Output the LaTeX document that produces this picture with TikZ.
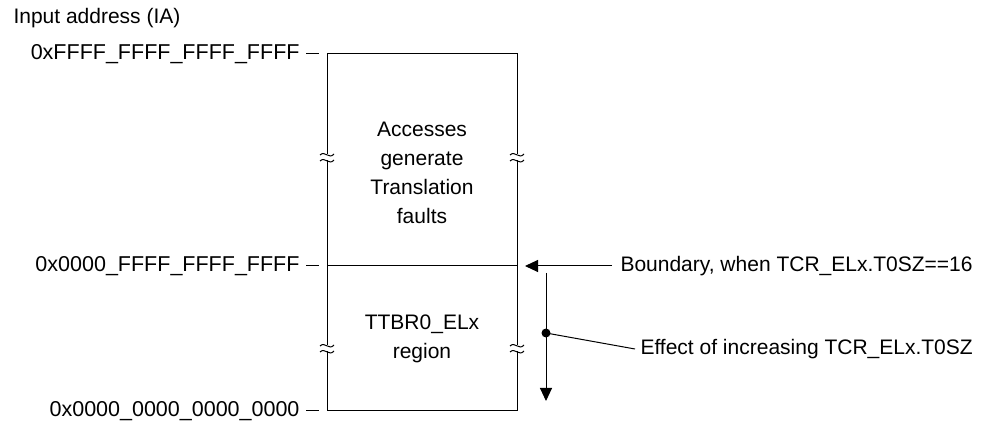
\documentclass[tikz,border=0pt]{standalone}
\usepackage{fontspec}
\setmainfont{Liberation Sans}
\usetikzlibrary{arrows.meta, positioning}

% small break mark across a vertical side
\newcommand{\brkmark}[2]{%
  \fill[white] (#1-7,#2-3) rectangle (#1+7,#2+3);
  \draw (#1-7,#2-2) .. controls (#1-2,#2-7) and (#1+2,#2+3) .. (#1+7,#2-3);
  \draw (#1-7,#2+4) .. controls (#1-2,#2-1) and (#1+2,#2+9) .. (#1+7,#2+3);
}

\begin{document}
\begin{tikzpicture}[
  x=1pt, y=-1pt,
  region/.style={draw, line width=1pt, minimum width=190pt, inner sep=0pt},
  txt/.style={font=\fontsize{21}{29}\selectfont, inner sep=0pt, align=center},
  addr/.style={font=\fontsize{21.5}{25}\selectfont, inner sep=0pt, anchor=east},
  >={Triangle[length=13pt, width=12pt]}, line width=1pt
]
\useasboundingbox (0,0) rectangle (991,427);

\node[txt, anchor=west] (ia) at (13,18) {Input address (IA)};

\node[region, minimum height=212pt] (upper) at (422,160) {};
\node[region, minimum height=145pt] (lower) at (422,338.5) {};

\node[txt] (fault) at (422,173) {Accesses\\generate\\Translation\\faults};
\node[txt] (ttbr)  at (422,339) {TTBR0\_ELx\\region};

\node[addr] (top) at (300,54)  {0xFFFF\_FFFF\_FFFF\_FFFF};
\node[addr] (mid) at (300,266) {0x0000\_FFFF\_FFFF\_FFFF};
\node[addr] (bot) at (300,411) {0x0000\_0000\_0000\_0000};
\foreach \n/\y in {top/54, mid/266, bot/411}
  \draw (\n.east) ++(6,0) -- ++(13,0);

% break marks
\brkmark{327}{157}
\brkmark{517}{157}
\brkmark{327}{348}
\brkmark{517}{348}

\node[txt, anchor=west] (bnd) at (620,266) {Boundary, when TCR\_ELx.T0SZ==16};
\node[txt, anchor=west] (eff) at (640,349) {Effect of increasing TCR\_ELx.T0SZ};

\coordinate (tip) at (525,266);
\draw[->] (bnd.west) ++(-8,0) -- (tip);

\coordinate (dtop) at (546,273);
\coordinate (dbot) at (546,401);
\coordinate (dot) at (546,333);
\draw[->] (dtop) -- (dbot);
\fill (dot) circle (4.5);
\draw (dot) -- ([xshift=-5pt]eff.west);
\end{tikzpicture}
\end{document}
